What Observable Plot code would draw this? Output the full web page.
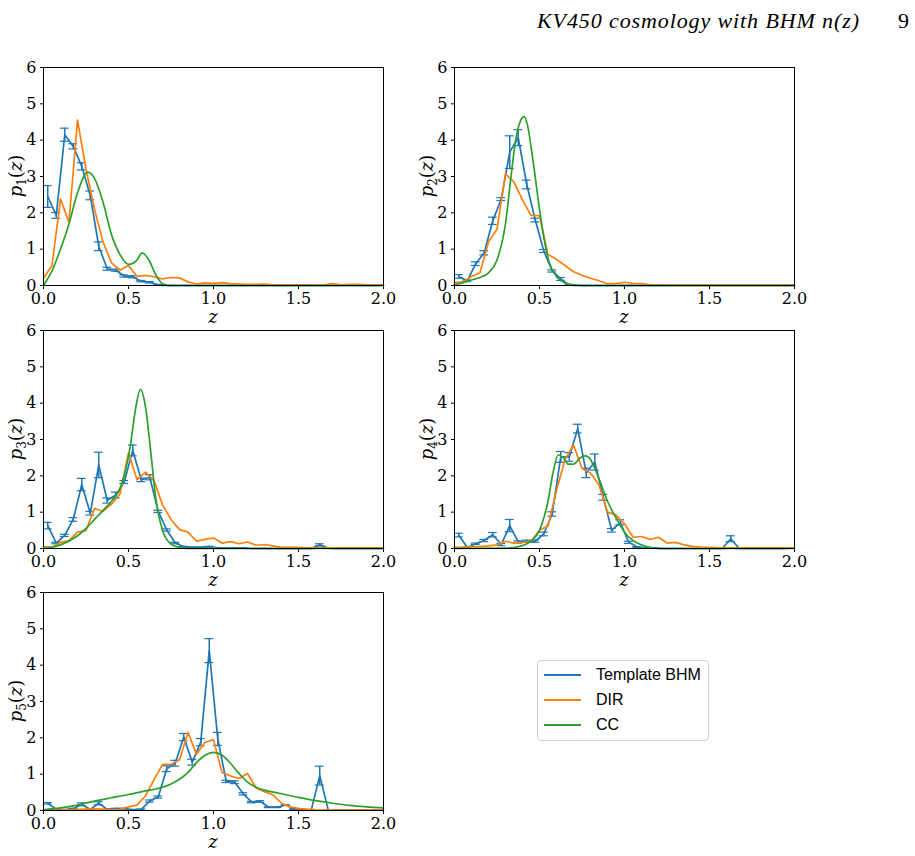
<!DOCTYPE html>
<html>
<head>
<meta charset="utf-8">
<script src="https://cdn.jsdelivr.net/npm/d3@7"></script>
<script src="https://cdn.jsdelivr.net/npm/@observablehq/plot@0.6"></script>
<style>
  body { margin: 0; background: #fff; }
  #fig { position: relative; width: 915px; height: 856px; overflow: hidden; font-family: "DejaVu Serif", serif; }
  .panel { position: absolute; }
  .panel svg { overflow: visible; }
  #header { position: absolute; left: 0; top: 0; }
  #legend { position: absolute; left: 537px; top: 660px; width: 170px; height: 79px;
            border: 1px solid #d0d0d0; border-radius: 4px; background: #fff;
            font-family: "Liberation Sans", sans-serif; font-size: 16px; color: #000; }
  .row { position: absolute; left: 6px; height: 20px; display: flex; align-items: center; }
  .row svg { width: 37px; height: 4px; margin-right: 15px; }
</style>
</head>
<body>
<div id="fig"></div>
<script>
// Series names and colours
const seriesNames = ["Template BHM", "DIR", "CC"];
const seriesColors = ["#1f77b4", "#ff7f0e", "#2ca02c"];

// Redshift bin centres of the template BHM histogram (width 0.05)
const zBins = d3.range(0.025, 2, 0.05);
// Redshift grid of the DIR n(z)
const zDir = d3.range(0, 2.0001, 0.05);

const xTicks = [0, 0.5, 1.0, 1.5, 2.0];
const yTicks = [0, 1, 2, 3, 4, 5, 6];

// Template BHM: bin heights and 1-sigma errors, one array per tomographic bin
const bhm1 = [2.45,1.93,4.15,3.83,3.28,2.48,1.08,0.46,0.42,0.26,
              0.24,0.12,0.09,0.02,0,0,0,0,0,0,
              0,0,0,0,0,0,0,0,0,0,
              0,0,0,0,0,0,0,0,0,0];
const err1 = [0.3,0.08,0.18,0.07,0.1,0.12,0.12,0.04,0.03,0.03,
              0.03,0.02,0.02,0.01,0,0,0,0,0,0,
              0,0,0,0,0,0,0,0,0,0,
              0,0,0,0,0,0,0,0,0,0];
const bhm2 = [0.25,0.13,0.6,0.9,1.78,2.38,3.67,4.07,2.78,1.8,
              0.95,0.4,0.18,0.01,0,0,0,0,0,0,
              0,0,0,0,0,0,0,0,0,0,
              0,0,0,0,0,0,0,0,0,0];
const err2 = [0.05,0.02,0.05,0.06,0.1,0.04,0.45,0.22,0.12,0.05,
              0.04,0.03,0.04,0.01,0,0,0,0,0,0,
              0,0,0,0,0,0,0,0,0,0,
              0,0,0,0,0,0,0,0,0,0];
const bhm3 = [0.63,0.15,0.36,0.8,1.76,0.97,2.3,1.32,1.47,1.83,
              2.7,1.89,1.96,1.02,0.51,0.15,0.05,0.03,0.03,0.05,
              0.02,0.01,0.01,0.01,0,0,0,0,0,0,
              0,0,0.1,0.01,0,0,0,0,0,0];
const err3 = [0.09,0.02,0.03,0.05,0.17,0.05,0.35,0.07,0.08,0.04,
              0.15,0.05,0.07,0.03,0.03,0.02,0.01,0.01,0.01,0.01,
              0,0,0,0,0,0,0,0,0,0,
              0,0,0.03,0,0,0,0,0,0,0];
const bhm4 = [0.37,0.03,0.13,0.22,0.38,0.11,0.63,0.18,0.2,0.2,
              0.4,0.95,2.52,2.52,3.3,2.08,2.38,1.41,0.5,0.72,
              0.17,0.04,0.01,0.01,0,0,0,0,0,0,
              0,0,0.27,0,0,0,0,0,0,0.01];
const err4 = [0.05,0.01,0.02,0.03,0.06,0.03,0.17,0.03,0.03,0.03,
              0.05,0.06,0.15,0.12,0.12,0.13,0.22,0.08,0.05,0.07,
              0.03,0.01,0,0,0,0,0,0,0,0,
              0,0,0.08,0,0,0,0,0,0,0];
const bhm5 = [0.2,0.03,0.02,0.05,0.17,0.03,0.2,0.03,0.05,0.05,
              0.02,0.03,0.26,0.37,1.15,1.3,2.02,1.33,1.88,4.4,
              1.97,0.8,0.78,0.46,0.23,0.25,0.09,0.09,0.15,0.04,
              0.01,0.01,0.96,0.01,0.01,0.01,0.01,0.01,0.01,0.01];
const err5 = [0.02,0.01,0.01,0.01,0.04,0.01,0.04,0.01,0.01,0.01,
              0.01,0.01,0.03,0.03,0.08,0.08,0.1,0.08,0.1,0.33,
              0.18,0.03,0.04,0.03,0.02,0.02,0.01,0.01,0.01,0.01,
              0.01,0.01,0.26,0.01,0,0,0,0,0,0];

// DIR n(z) on zDir
const dir1 = [0.2,0.55,2.38,1.74,4.55,3.2,2.1,1.2,0.62,0.42,
              0.55,0.25,0.28,0.24,0.18,0.22,0.21,0.1,0.04,0.07,
              0.06,0.08,0.05,0.04,0.03,0.03,0.04,0.02,0.02,0.01,
              0.02,0.02,0.01,0.02,0.05,0.02,0.03,0.03,0.02,0.02,0.02];
const dir2 = [0.08,0.1,0.25,0.35,1.2,1.55,3.07,2.85,2.35,1.93,
              1.92,0.85,0.72,0.55,0.38,0.28,0.2,0.13,0.05,0.05,
              0.09,0.06,0.05,0.02,0.02,0.01,0.01,0.01,0.01,0.01,
              0.01,0.01,0.01,0.01,0.01,0.01,0.01,0.01,0.01,0.01,0.01];
const dir3 = [0.05,0.03,0.17,0.22,0.45,0.5,1.1,1.02,1.22,1.5,
              2.63,1.89,2.1,1.87,1.2,0.8,0.52,0.45,0.2,0.25,
              0.29,0.15,0.19,0.13,0.18,0.09,0.11,0.07,0.03,0.03,
              0.03,0.02,0.02,0.02,0.02,0.02,0.02,0.02,0.02,0.02,0.02];
const dir4 = [0.03,0.03,0.05,0.05,0.07,0.1,0.2,0.15,0.17,0.2,
              0.5,0.62,1.6,2.45,2.85,2.2,2.08,1.75,1.0,0.92,
              0.68,0.31,0.33,0.25,0.31,0.15,0.17,0.1,0.06,0.04,
              0.03,0.02,0.02,0.02,0.02,0.02,0.02,0.02,0.02,0.02,0.02];
const dir5 = [0.02,0.02,0.01,0.02,0.03,0.04,0.05,0.03,0.02,0.03,
              0.1,0.15,0.4,0.85,1.27,1.27,1.4,2.15,1.55,1.88,
              1.95,1.05,0.95,0.88,1.02,0.62,0.52,0.43,0.2,0.1,
              0.06,0.04,0.02,0.01,0.01,0.01,0.01,0.01,0.01,0.01,0.01];

// CC n(z): redshift nodes and values of the smooth curves
const ccZ1 = [0,0.05,0.1,0.15,0.2,0.26,0.3,0.35,0.4,0.45,0.5,0.55,0.58,0.62,0.66,0.7,0.75,0.8,2.0];
const cc1  = [0,0.4,1.0,1.7,2.55,3.12,2.95,2.3,1.4,0.85,0.58,0.7,0.9,0.7,0.3,0.05,0,0,0];
const ccZ2 = [0,0.05,0.1,0.15,0.2,0.25,0.3,0.33,0.36,0.39,0.41,0.43,0.46,0.5,0.53,0.56,0.6,0.65,0.7,0.75,2.0];
const cc2  = [0.02,0.08,0.15,0.22,0.35,0.7,1.7,2.9,4.0,4.55,4.65,4.4,3.5,2.1,1.2,0.6,0.25,0.07,0.02,0,0];
const ccZ3 = [0,0.1,0.2,0.25,0.3,0.35,0.4,0.45,0.48,0.51,0.54,0.57,0.6,0.63,0.66,0.7,0.75,0.8,0.85,2.0];
const cc3  = [0,0.1,0.35,0.55,0.8,1.05,1.3,1.65,2.1,2.8,3.8,4.38,3.9,2.7,1.4,0.5,0.12,0.03,0,0];
const ccZ4 = [0,0.3,0.4,0.45,0.5,0.55,0.58,0.61,0.64,0.67,0.7,0.74,0.77,0.8,0.83,0.86,0.9,0.95,1.0,1.05,1.1,1.15,1.2,2.0];
const cc4  = [0,0.01,0.08,0.2,0.5,1.3,2.1,2.58,2.5,2.32,2.32,2.5,2.55,2.45,2.15,1.8,1.3,0.85,0.45,0.22,0.1,0.03,0,0];
const ccZ5 = [0,0.1,0.2,0.3,0.4,0.5,0.6,0.7,0.75,0.8,0.85,0.9,0.95,1.0,1.05,1.1,1.15,1.2,1.25,1.3,1.4,1.5,1.6,1.7,1.8,1.9,2.0];
const cc5  = [0.02,0.07,0.15,0.26,0.35,0.44,0.54,0.64,0.73,0.86,1.05,1.32,1.52,1.6,1.52,1.3,1.02,0.78,0.64,0.56,0.46,0.36,0.27,0.2,0.14,0.1,0.07];

const panels = [
  {bhm: bhm1, err: err1, dir: dir1, ccZ: ccZ1, cc: cc1, left: 0,   top: 55},
  {bhm: bhm2, err: err2, dir: dir2, ccZ: ccZ2, cc: cc2, left: 411, top: 55},
  {bhm: bhm3, err: err3, dir: dir3, ccZ: ccZ3, cc: cc3, left: 0,   top: 318},
  {bhm: bhm4, err: err4, dir: dir4, ccZ: ccZ4, cc: cc4, left: 411, top: 318},
  {bhm: bhm5, err: err5, dir: dir5, ccZ: ccZ5, cc: cc5, left: 0,   top: 580}
];

const serif = "DejaVu Serif";
const fig = document.getElementById("fig");
const capHalf = 0.026; // half-width of the error-bar caps, in z

panels.forEach((p, i) => {
  const blue = zBins.map((z, k) => ({z, v: p.bhm[k], e: p.err[k]}));
  const orange = zDir.map((z, k) => ({z, v: p.dir[k]}));
  const green = p.ccZ.map((z, k) => ({z, v: p.cc[k]}));
  const [cB, cO, cG] = seriesColors;

  const svg = Plot.plot({
    width: 400, height: 275,
    marginLeft: 43, marginRight: 17, marginTop: 12, marginBottom: 45,
    style: {fontFamily: serif, fontSize: "16px", color: "#000", background: "transparent", overflow: "visible"},
    x: {domain: [0, 2], ticks: xTicks, tickFormat: d3.format(".1f"), tickSize: 4, tickPadding: 3, label: null},
    y: {domain: [0, 6], ticks: yTicks, tickFormat: d3.format("d"), tickSize: 3, tickPadding: 4, label: null},
    marks: [
      Plot.ruleX(blue, {x: "z", y1: d => d.v - d.e, y2: d => d.v + d.e, stroke: cB, strokeWidth: 1.5}),
      Plot.ruleY(blue, {y: d => d.v + d.e, x1: d => d.z - capHalf, x2: d => d.z + capHalf, stroke: cB, strokeWidth: 1.2}),
      Plot.ruleY(blue, {y: d => d.v - d.e, x1: d => d.z - capHalf, x2: d => d.z + capHalf, stroke: cB, strokeWidth: 1.2}),
      Plot.line(blue, {x: "z", y: "v", stroke: cB, strokeWidth: 1.7}),
      Plot.line(orange, {x: "z", y: "v", stroke: cO, strokeWidth: 1.7}),
      Plot.line(green, {x: "z", y: "v", stroke: cG, strokeWidth: 1.7, curve: "monotone-x"}),
      Plot.frame({stroke: "#000", strokeWidth: 1})
    ]
  });

  const s = d3.select(svg);
  // x-axis label
  s.append("text")
    .attr("x", 43 + 170).attr("y", 268)
    .attr("text-anchor", "middle")
    .attr("font-family", serif).attr("font-size", 18).attr("font-style", "italic")
    .text("z");
  // y-axis label p_i(z)
  const t = s.append("text")
    .attr("transform", `translate(22,${12 + 109}) rotate(-90)`)
    .attr("text-anchor", "middle")
    .attr("font-family", serif).attr("font-size", 18);
  t.append("tspan").attr("font-style", "italic").text("p");
  t.append("tspan").attr("dy", 4).attr("font-size", 12).text(String(i + 1));
  t.append("tspan").attr("dy", -4).text("(");
  t.append("tspan").attr("font-style", "italic").text("z");
  t.append("tspan").text(")");

  const div = document.createElement("div");
  div.className = "panel";
  div.style.left = p.left + "px";
  div.style.top = p.top + "px";
  div.appendChild(svg);
  fig.appendChild(div);
});

// Running header
const hdr = d3.select(fig).append("svg").attr("id", "header").attr("width", 915).attr("height", 45);
hdr.append("text").attr("x", 537).attr("y", 28)
  .attr("font-family", "Liberation Serif").attr("font-size", 22).attr("font-style", "italic")
  .attr("textLength", 322).attr("lengthAdjust", "spacing")
  .text("KV450 cosmology with BHM n(z)");
hdr.append("text").attr("x", 909).attr("y", 28).attr("text-anchor", "end")
  .attr("font-family", "Liberation Serif").attr("font-size", 22)
  .text("9");

// Legend
const legend = document.createElement("div");
legend.id = "legend";
seriesNames.forEach((name, k) => {
  const row = document.createElement("div");
  row.className = "row";
  row.style.top = (4 + 25 * k) + "px";
  row.innerHTML = `<svg viewBox="0 0 37 4"><line x1="0" y1="2" x2="37" y2="2" stroke="${seriesColors[k]}" stroke-width="2"/></svg><span>${name}</span>`;
  legend.appendChild(row);
});
fig.appendChild(legend);
</script>
</body>
</html>
